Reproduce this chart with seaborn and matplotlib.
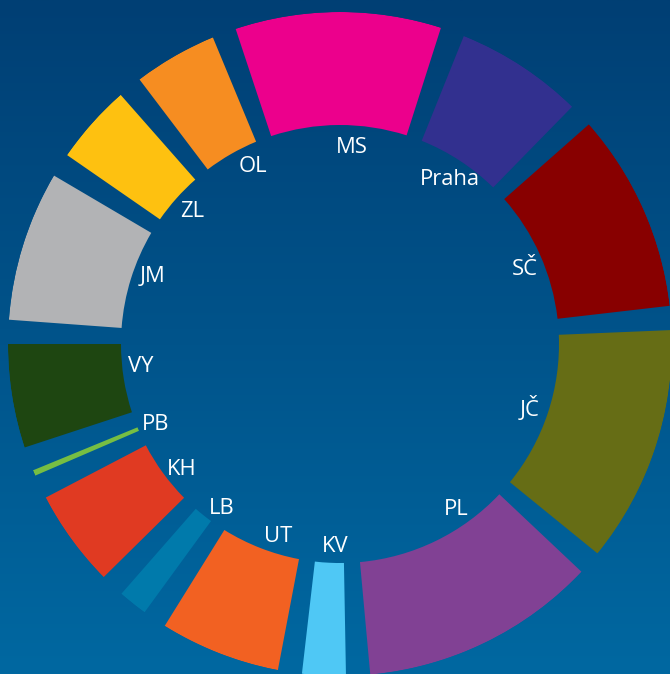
import numpy as np
import seaborn as sns
import matplotlib
matplotlib.use("Agg")
import matplotlib.pyplot as plt
from matplotlib.colors import LinearSegmentedColormap

# regions in clockwise order, starting with Praha
regions = ["Praha", "SČ", "JČ", "PL", "KV", "UT", "LB", "KH", "PB", "VY", "JM", "ZL", "OL", "MS"]
shares = [7.46, 11.56, 13.79, 13.76, 2.53, 7.00, 1.70, 5.66, 0.33, 6.03, 8.73, 4.63, 4.86, 11.96]
colors = ["#32308f", "#880000", "#666d15", "#814194", "#4fc8f5", "#f26122", "#007aab",
          "#e03a22", "#76be43", "#1e4611", "#b2b3b5", "#fec110", "#f68d21", "#ec008c"]

# label placement (compass angle in degrees, radius in px)
label_angle = [33.4, 67.4, 108.6, 144.6, 181.3, 198.1, 216.2, 232.2, 247.0, 264.3, 290.5, 312.5, 334.3, 3.3]
label_r = 200

sns.set_theme(style="white")
plt.rcParams["font.family"] = ["Open Sans", "DejaVu Sans"]

fig = plt.figure(figsize=(6.7, 6.74), dpi=100)

# background gradient
bg = fig.add_axes([0, 0, 1, 1])
cmap = LinearSegmentedColormap.from_list("bg", ["#003f74", "#0068a1"])
bg.imshow(np.linspace(0, 1, 256).reshape(-1, 1), aspect="auto", cmap=cmap,
          extent=[0, 1, 0, 1])
bg.set_axis_off()

# donut
R_out, R_in = 332, 219
cx, cy = 340, 344
W, H = 670, 674
ax = fig.add_axes([(cx - R_out) / W, (H - cy - R_out) / H, 2 * R_out / W, 2 * R_out / H],
                  projection="polar")
ax.set_theta_zero_location("N")
ax.set_theta_direction(-1)
ax.set_ylim(0, R_out)
ax.set_axis_off()
ax.patch.set_alpha(0)

gap = 4.2
start = 19.8
widths = np.array(shares) / sum(shares) * (360 - gap * len(shares))
slots = widths + gap
centers = start + np.cumsum(slots) - slots / 2

ax.bar(np.deg2rad(centers), R_out - R_in, width=np.deg2rad(widths), bottom=R_in,
       color=sns.color_palette(colors), linewidth=0, align="center")

# labels: centre of the capitals sits on the given point
for name, a in zip(regions, label_angle):
    ax.annotate(name, (np.deg2rad(a), label_r), xytext=(0, -6.0),
                textcoords="offset points", color="white", fontsize=15.8,
                ha="center", va="baseline")

fig.savefig("out.png", dpi=100)
